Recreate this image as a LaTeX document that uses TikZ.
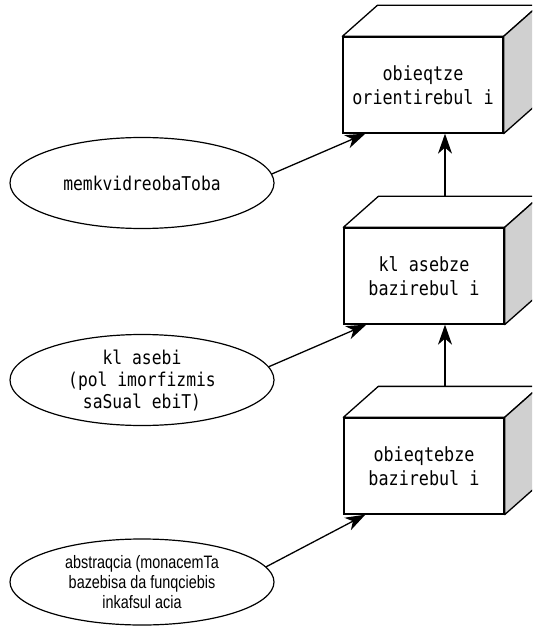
\documentclass[tikz,border=0pt]{standalone}
\usepackage{fontspec}
\newfontfamily\boxfont[FakeStretch=0.86]{DejaVu Sans Mono}
\newfontfamily\narrowfont[FakeStretch=0.8]{Liberation Sans}
\usetikzlibrary{shapes.geometric,arrows.meta,calc}
\definecolor{sidegray}{RGB}{208,208,208}
\tikzset{
  front/.style={draw, line width=1.3pt, fill=white, minimum width=160pt, minimum height=96pt,
    inner sep=0pt, align=center, font=\boxfont\fontsize{19.5}{24}\selectfont},
  oval/.style={ellipse, draw, line width=1.2pt, minimum width=264pt, minimum height=91pt,
    inner sep=0pt, align=center, font=\boxfont\fontsize{19}{22}\selectfont},
  arr/.style={line width=1.3pt, -{Stealth[length=20pt,width=14pt,inset=6pt]}},
  topface/.style={draw, line width=1.3pt, line join=round, fill=white},
  sideface/.style={draw, line width=1.3pt, line join=round, fill=sidegray}
}
\begin{document}
\begin{tikzpicture}[x=1pt,y=-1pt]
\clip (0,0) rectangle (532,628);
% boxes (front faces)
\node[front] (A) at (423,85) {obieqtze\\orientirebul i};
\node[front] (B) at (424,276) {kl asebze\\bazirebul i};
\node[front] (C) at (424,466) {obieqtebze\\bazirebul i};
\foreach \b in {A,B,C}{
  \draw[topface] (\b.north west) -- ++(35,-31) -- ($(\b.north east)+(35,-31)$) -- (\b.north east) -- cycle;
  \draw[sideface] (\b.north east) -- ++(35,-31) -- ($(\b.south east)+(35,-31)$) -- (\b.south east) -- cycle;
}
% ellipses
\node[oval] (E1) at (142,183) {memkvidreobaToba};
\node[oval] (E2) at (142,380) {kl asebi\\(pol imorfizmis\\saSual ebiT)};
\node[oval, minimum height=86pt, font=\narrowfont\fontsize{18}{20}\selectfont] (E3) at (142,582)
  {abstraqcia (monacemTa\\bazebisa da funqciebis\\inkafsul acia};
% connector end points
\coordinate (At) at ($(A.south west)+(23,0)$);
\coordinate (Bt) at ($(B.south west)+(23,0)$);
\coordinate (Ct) at ($(C.south west)+(22,0)$);
\coordinate (Bb) at ($(B.north)+(21,-31)$);
\coordinate (Cb) at ($(C.north)+(21,-31)$);
% connectors
\draw[arr] (E1.4) -- (At);
\draw[arr] (E2.6) -- (Bt);
\draw[arr] (E3.7) -- (Ct);
\draw[arr] (Bb) -- (Bb |- A.south);
\draw[arr] (Cb) -- (Cb |- B.south);
\end{tikzpicture}
\end{document}
